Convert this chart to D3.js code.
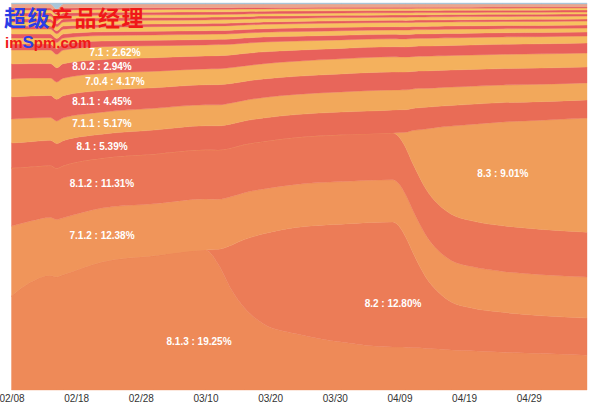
<!DOCTYPE html>
<html>
<head>
<meta charset="utf-8">
<script src="https://cdnjs.cloudflare.com/ajax/libs/d3/7.8.5/d3.min.js"></script>
<style>
body { margin: 0; background: #fff; }
</style>
</head>
<body>
<div id="chart"></div>
<script>
// sample dates (share of each iOS version, in %)
var dates = ["2015-02-08", "2015-02-11", "2015-02-14", "2015-02-15", "2015-02-16", "2015-02-22",
	"2015-03-02", "2015-03-10", "2015-03-12", "2015-03-14", "2015-03-16", "2015-03-19", "2015-03-24",
	"2015-03-31", "2015-04-08", "2015-04-09", "2015-04-10", "2015-04-11", "2015-04-12", "2015-04-13",
	"2015-04-15", "2015-04-17", "2015-04-20", "2015-04-25", "2015-05-01", "2015-05-08"];

var s813 = [24.3, 27.9, 29.6, 29.6, 29.7, 33.1, 34.6, 36.2, 32.3, 25.8, 21.2, 17.1, 14.5, 12.4, 11.1, 11.1, 11.0, 10.9, 10.9, 10.7, 10.6, 10.3, 10.1, 9.8, 9.4, 9.0];
var s82 = [0, 0, 0, 0, 0, 0, 0, 0, 3.9, 11.4, 17.6, 23.3, 27.4, 30.5, 32.3, 31.0, 28.2, 24.8, 21.4, 18.6, 14.7, 12.4, 11.1, 10.3, 9.8, 9.6];
var s712 = [18.1, 15.8, 15.0, 15.0, 14.7, 14.0, 13.4, 13.2, 12.9, 12.5, 12.1, 11.6, 11.1, 11.0, 10.9, 10.9, 10.9, 10.9, 10.9, 10.9, 10.7, 10.7, 10.7, 10.6, 10.6, 10.6];
var s812 = [15.0, 14.0, 13.4, 13.4, 13.4, 12.9, 12.8, 12.7, 12.7, 12.5, 12.4, 12.3, 12.1, 12.1, 12.1, 12.1, 12.1, 12.0, 12.0, 11.9, 11.9, 11.9, 11.8, 11.8, 11.7, 11.6];
var s83 = [0, 0, 0, 0, 0, 0, 0, 0, 0, 0, 0, 0, 0, 0, 0, 1.3, 4.1, 8.3, 11.9, 15.2, 19.9, 22.7, 24.8, 26.9, 28.2, 29.5];
var s81 = [6.5, 6.5, 6.5, 6.5, 6.5, 6.2, 6.2, 6.2, 6.2, 6.15, 6.1, 6.05, 5.9, 5.9, 5.9, 5.9, 5.8, 5.7, 5.7, 5.6, 5.4, 5.3, 5.2, 5.0, 4.8, 4.7];
var s711 = [6.2, 6.1, 5.9, 5.9, 5.9, 5.7, 5.6, 5.4, 5.4, 5.4, 5.3, 5.3, 5.2, 5.2, 5.2, 5.1, 5.1, 5.0, 5.0, 4.9, 4.8, 4.75, 4.65, 4.55, 4.5, 4.4];
var s811 = [5.7, 5.7, 5.7, 5.7, 5.7, 5.6, 5.3, 5.2, 5.2, 5.0, 4.9, 4.8, 4.65, 4.65, 4.65, 4.6, 4.6, 4.55, 4.5, 4.5, 4.45, 4.4, 4.35, 4.25, 4.2, 4.1];
var s704 = [4.65, 4.65, 4.5, 4.5, 4.5, 4.4, 4.25, 4.1, 4.1, 4.1, 4.0, 3.95, 3.9, 3.9, 3.9, 3.9, 3.85, 3.8, 3.8, 3.8, 3.75, 3.75, 3.7, 3.7, 3.65, 3.6];
var s802 = [3.9, 3.75, 3.75, 3.75, 3.75, 3.6, 3.5, 3.35, 3.35, 3.25, 3.2, 3.05, 2.85, 2.7, 2.6, 2.6, 2.6, 2.6, 2.6, 2.6, 2.6, 2.6, 2.6, 2.6, 2.6, 2.6];
var s71 = [3.6, 3.5, 3.5, 3.5, 3.5, 3.35, 3.1, 2.85, 2.85, 2.75, 2.65, 2.55, 2.35, 2.2, 2.05, 2.05, 2.05, 2.05, 2.0, 2.0, 2.0, 1.95, 1.95, 1.9, 1.85, 1.8];
// small versions, unlabelled
var s706 = [1.55, 1.55, 1.55, 1.55, 1.55, 1.45, 1.4, 1.38, 1.36, 1.35, 1.32, 1.28, 1.24, 1.2, 1.16, 1.16, 1.15, 1.15, 1.14, 1.14, 1.13, 1.12, 1.1, 1.08, 1.05, 1.03];
var s80 = [1.55, 1.55, 1.55, 1.55, 1.55, 1.42, 1.38, 1.36, 1.35, 1.33, 1.3, 1.26, 1.22, 1.18, 1.14, 1.14, 1.13, 1.12, 1.12, 1.11, 1.1, 1.09, 1.08, 1.06, 1.05, 1.03];
var s703 = [1.03, 1.03, 1.02, 1.02, 1.02, 0.96, 0.95, 0.94, 0.93, 0.93, 0.92, 0.9, 0.88, 0.86, 0.84, 0.84, 0.84, 0.83, 0.83, 0.83, 0.82, 0.82, 0.81, 0.8, 0.79, 0.78];
var s616 = [1.29, 1.29, 1.28, 1.28, 1.28, 1.2, 1.18, 1.17, 1.17, 1.16, 1.15, 1.13, 1.11, 1.1, 1.08, 1.08, 1.08, 1.07, 1.07, 1.07, 1.06, 1.06, 1.05, 1.05, 1.04, 1.03];
var s702 = [0.78, 0.78, 0.78, 0.78, 0.78, 0.72, 0.7, 0.68, 0.67, 0.66, 0.64, 0.62, 0.6, 0.58, 0.56, 0.56, 0.56, 0.56, 0.55, 0.55, 0.55, 0.54, 0.54, 0.53, 0.53, 0.52];
var s614 = [1.03, 1.03, 1.03, 1.03, 1.03, 0.96, 0.94, 0.93, 0.92, 0.91, 0.9, 0.88, 0.86, 0.84, 0.82, 0.82, 0.82, 0.82, 0.81, 0.81, 0.81, 0.8, 0.8, 0.79, 0.79, 0.78];
var s613 = [0.78, 0.78, 0.78, 0.78, 0.78, 0.72, 0.7, 0.69, 0.68, 0.67, 0.65, 0.63, 0.61, 0.59, 0.57, 0.57, 0.57, 0.56, 0.56, 0.56, 0.55, 0.55, 0.54, 0.54, 0.53, 0.52];
var s70 = [0.78, 0.78, 0.78, 0.78, 0.78, 0.72, 0.7, 0.69, 0.68, 0.67, 0.65, 0.63, 0.61, 0.59, 0.57, 0.57, 0.57, 0.56, 0.56, 0.56, 0.55, 0.55, 0.54, 0.54, 0.53, 0.52];
var s61 = [0.78, 0.78, 0.78, 0.78, 0.78, 0.72, 0.7, 0.68, 0.67, 0.66, 0.64, 0.62, 0.6, 0.58, 0.56, 0.56, 0.56, 0.56, 0.55, 0.55, 0.55, 0.54, 0.54, 0.53, 0.53, 0.52];
var s601 = [0.78, 0.78, 0.78, 0.78, 0.78, 0.72, 0.7, 0.68, 0.67, 0.66, 0.64, 0.62, 0.6, 0.58, 0.56, 0.56, 0.56, 0.56, 0.55, 0.55, 0.55, 0.54, 0.54, 0.53, 0.53, 0.52];
var s511 = [0.52, 0.52, 0.52, 0.52, 0.52, 0.46, 0.44, 0.42, 0.41, 0.4, 0.38, 0.36, 0.34, 0.32, 0.3, 0.3, 0.3, 0.3, 0.29, 0.29, 0.29, 0.28, 0.28, 0.27, 0.27, 0.26];
var s4x = [1.03, 1.03, 1.03, 1.03, 1.03, 0.98, 0.96, 0.95, 0.94, 0.93, 0.92, 0.9, 0.88, 0.86, 0.84, 0.84, 0.84, 0.83, 0.83, 0.83, 0.82, 0.82, 0.81, 0.8, 0.79, 0.78];
var sOther = [0.26, 0.26, 0.26, 1.55, 0.26, 0.26, 0.26, 0.26, 0.26, 0.26, 0.26, 0.26, 0.26, 0.26, 0.26, 0.26, 0.26, 0.26, 0.26, 0.26, 0.26, 0.26, 0.26, 0.26, 0.26, 0.26];

// bottom to top
var versions = ["8.1.3", "8.2", "7.1.2", "8.1.2", "8.3", "8.1", "7.1.1", "8.1.1", "7.0.4", "8.0.2", "7.1",
	"7.0.6", "8.0", "7.0.3", "6.1.6", "7.0.2", "6.1.4", "6.1.3", "7.0", "6.1", "6.0.1", "5.1.1", "4.x", "other"];
var series = [s813, s82, s712, s812, s83, s81, s711, s811, s704, s802, s71,
	s706, s80, s703, s616, s702, s614, s613, s70, s61, s601, s511, s4x, sOther];

// labels: average share over the period
var labelNames = ["8.1.3", "8.2", "7.1.2", "8.1.2", "8.3", "8.1", "7.1.1", "8.1.1", "7.0.4", "8.0.2", "7.1"];
var labelShares = ["19.25", "12.80", "12.38", "11.31", "9.01", "5.39", "5.17", "4.45", "4.17", "2.94", "2.62"];
var labelDates = ["2015-03-09", "2015-04-08", "2015-02-22", "2015-02-22", "2015-04-25", "2015-02-22",
	"2015-02-22", "2015-02-22", "2015-02-24", "2015-02-22", "2015-02-24"];
var labelFrac = [0.35, 0.35, 0.5, 0.5, 0.5, 0.5, 0.5, 0.5, 0.5, 0.5, 0.5];

var palette = ["#EE8A58", "#EC7C57", "#F0955A", "#EB7557", "#F09D5A", "#E96C56", "#F2A85B", "#E8665A",
	"#F4B15D", "#E8615B", "#F5B95E", "#E85E5D", "#F6BE5F", "#E85C5E", "#F7C260", "#E75B5F", "#F7C460",
	"#E75A5F", "#F8C661", "#E7595F", "#F8C761", "#E6585F", "#EBA58C", "#A8C6DA"];

var parseDate = d3.timeParse("%Y-%m-%d");

var rows = dates.map(function (d, i) {
	var row = {date: parseDate(d)};
	versions.forEach(function (v, j) {
		row[v] = series[j][i];
	});
	return row;
});

var x = d3.scaleTime().domain([parseDate("2015-02-08"), parseDate("2015-05-08")]).range([11.5, 587]);
var y = d3.scaleLinear().domain([0, 1]).range([390, 3]);

var layers = d3.stack().keys(versions).order(d3.stackOrderNone).offset(d3.stackOffsetExpand)(rows);

var area = d3.area()
	.curve(d3.curveMonotoneX)
	.x(function (d) { return x(d.data.date); })
	.y0(function (d) { return y(d[0]); })
	.y1(function (d) { return y(d[1]); });

var svg = d3.select("#chart").append("svg").attr("width", 600).attr("height", 406);

svg.selectAll("path.layer").data(layers).enter().append("path")
	.attr("class", "layer")
	.attr("d", area)
	.attr("fill", function (d, i) { return palette[i]; })
	.attr("stroke", function (d, i) { return palette[i]; })
	.attr("stroke-width", 0.4);

// x axis
var axis = d3.axisBottom(x)
	.tickValues(d3.timeDay.range(parseDate("2015-02-08"), parseDate("2015-05-08"), 10))
	.tickFormat(d3.timeFormat("%m/%d"))
	.tickSize(0)
	.tickPadding(5);
var gx = svg.append("g").attr("transform", "translate(0,390)").call(axis);
gx.select(".domain").remove();
gx.selectAll("text").attr("fill", "#333").style("font-family", "Helvetica, Arial, 'Liberation Sans', sans-serif").style("font-size", "10px");

// labels: linear position between the two nearest samples
function layerAt (layer, t) {
	var i = d3.bisector(function (d) { return d.data.date; }).right(layer, t) - 1;
	i = Math.max(0, Math.min(layer.length - 2, i));
	var a = layer[i], b = layer[i + 1];
	var k = (t - a.data.date) / (b.data.date - a.data.date);
	return [a[0] + (b[0] - a[0]) * k, a[1] + (b[1] - a[1]) * k];
}

labelNames.forEach(function (name, i) {
	var layer = layers[versions.indexOf(name)];
	var t = parseDate(labelDates[i]);
	var v = layerAt(layer, t);
	svg.append("text")
		.attr("x", x(t))
		.attr("y", y(v[0] + (v[1] - v[0]) * labelFrac[i]))
		.attr("dy", "0.35em")
		.attr("text-anchor", "middle")
		.attr("fill", "#fff")
		.style("font-family", "Helvetica, Arial, 'Liberation Sans', sans-serif")
		.style("font-size", "10px")
		.style("font-weight", "bold")
		.text(name + " : " + labelShares[i] + "%");
});

// watermark
var wm = svg.append("text").attr("x", 4).attr("y", 26)
	.style("font-family", "'Noto Sans CJK SC', sans-serif")
	.style("font-size", "22px").style("font-weight", "bold").attr("letter-spacing", 1.5);
wm.append("tspan").attr("fill", "#2B3DE6").text("超级");
wm.append("tspan").attr("fill", "#F01818").text("产品经理");

var wm2 = svg.append("text").attr("x", 5).attr("y", 48)
	.style("font-family", "'Liberation Sans', Arial, sans-serif")
	.style("font-size", "15px").style("font-weight", "bold");
wm2.append("tspan").attr("fill", "#F01818").text("im");
wm2.append("tspan").attr("fill", "#2B3DE6").style("font-size", "17px").text("S");
wm2.append("tspan").attr("fill", "#F01818").text("pm.com");
</script>
</body>
</html>
